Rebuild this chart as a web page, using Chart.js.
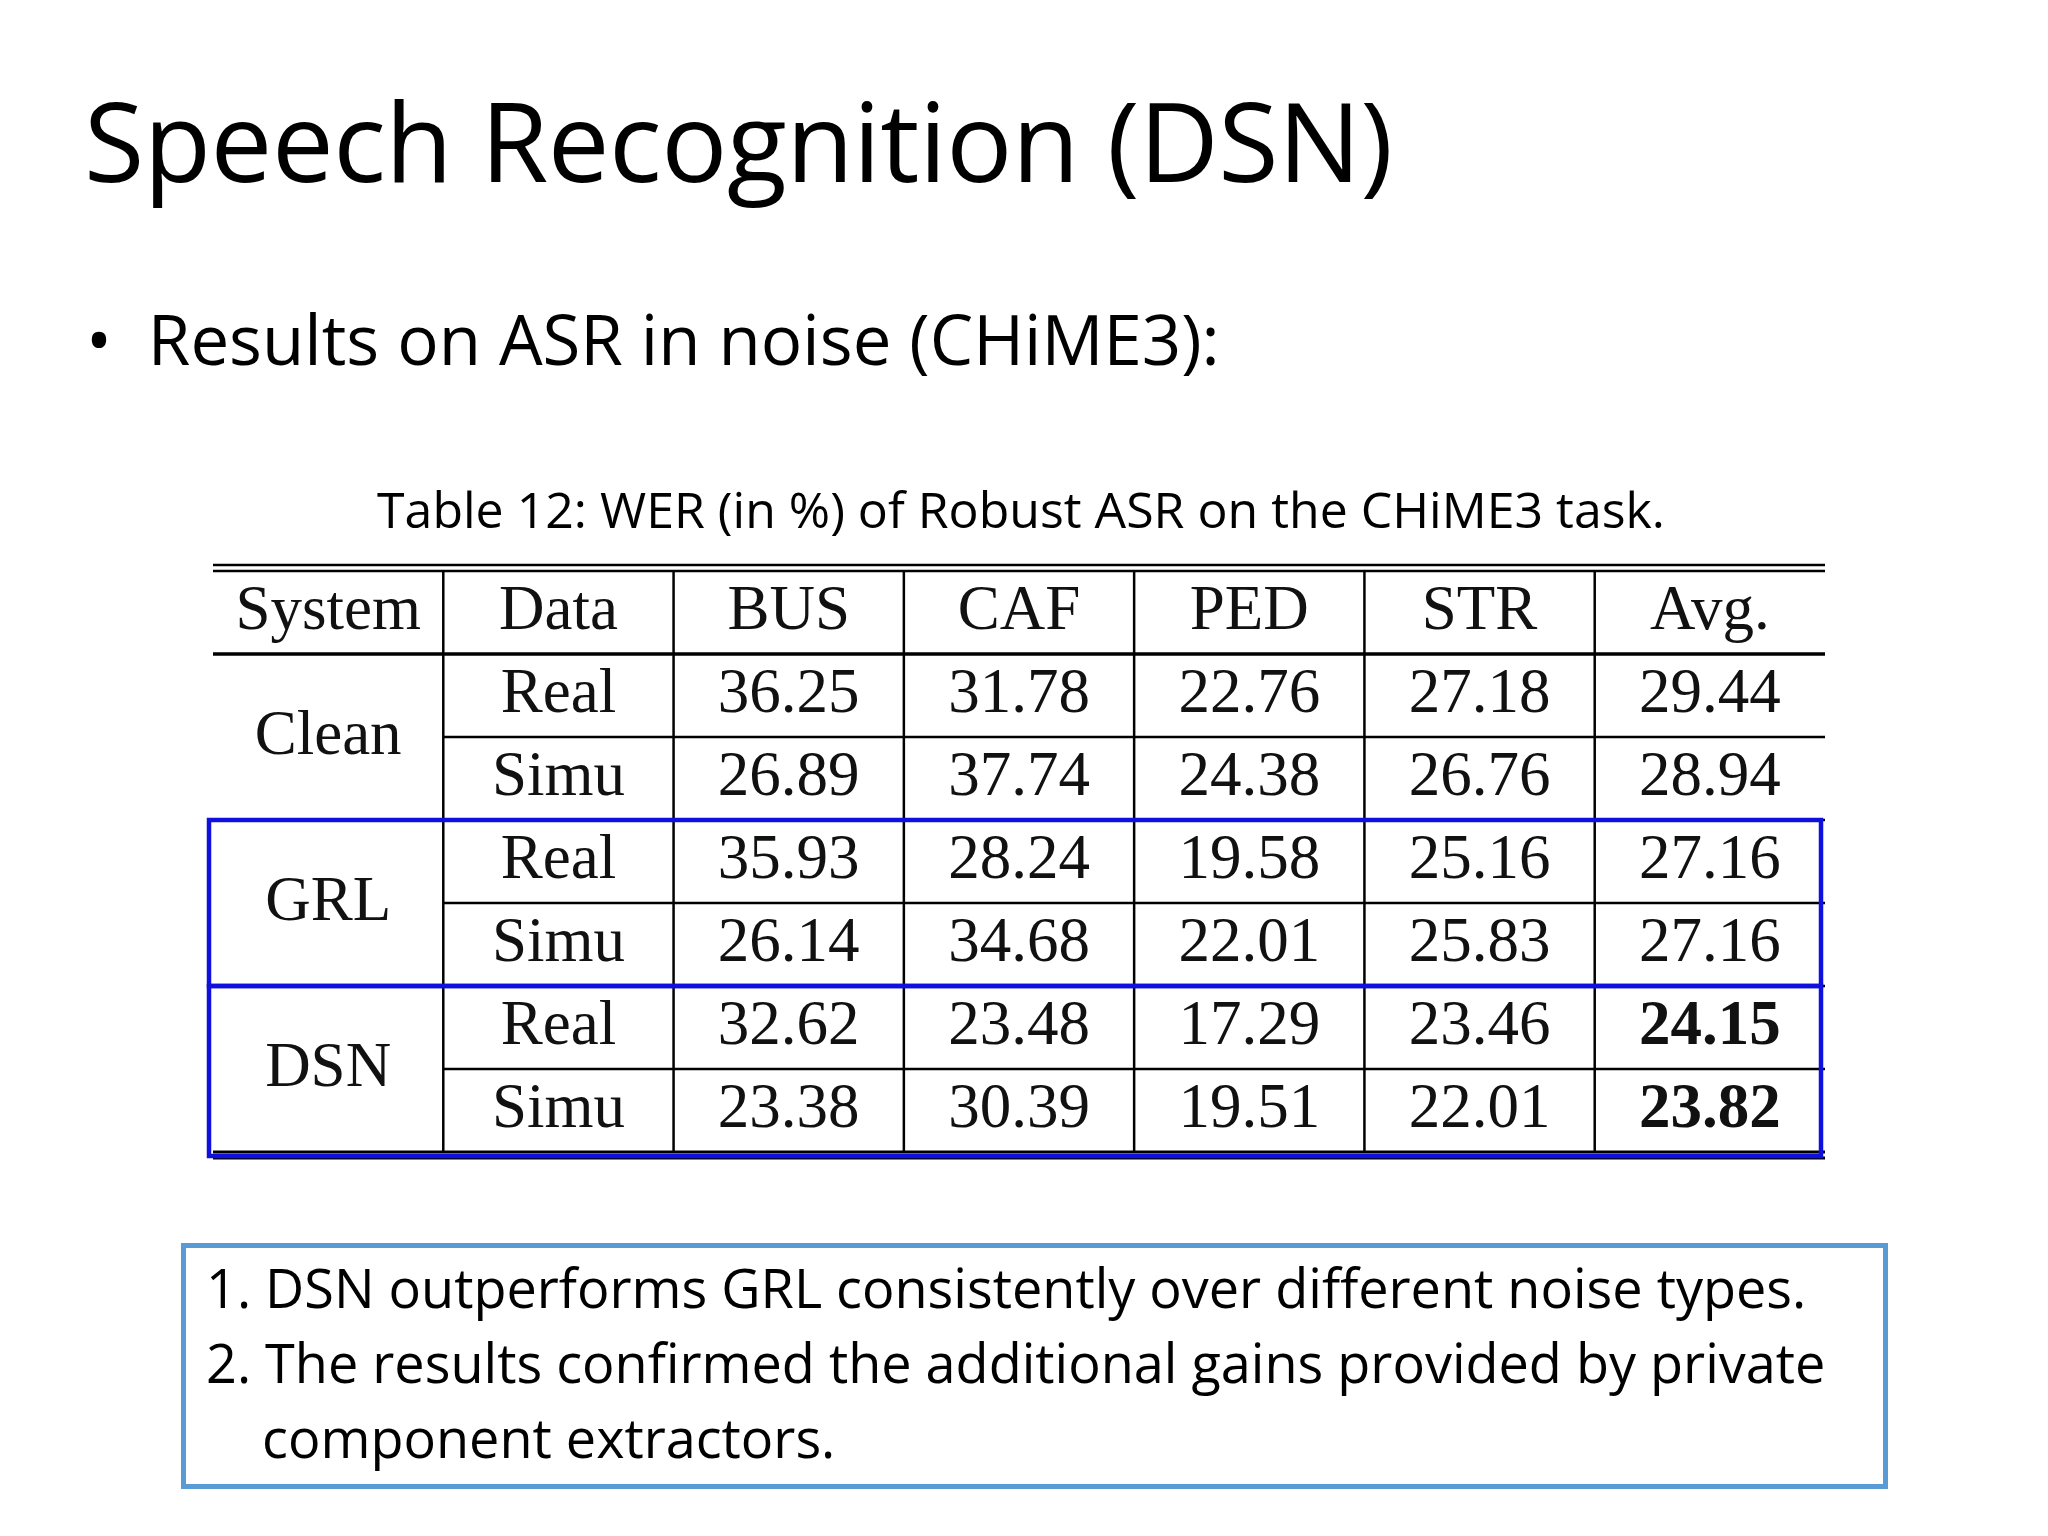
<!DOCTYPE html>
<html><head><meta charset="utf-8">
<script src="https://cdn.jsdelivr.net/npm/chart.js@4"></script>
<style>
html,body{margin:0;padding:0;background:#fff;width:2048px;height:1536px;overflow:hidden;font-family:"Open Sans",sans-serif;color:#000}
#title{position:absolute;left:84px;top:84px;font-size:110px;font-weight:400;line-height:1;letter-spacing:-0.5px}
#bullet{position:absolute;left:86px;top:304px;font-size:69px;line-height:1}
#caption{position:absolute;left:0;width:2042px;text-align:center;top:484px;font-size:50px;line-height:1}
#note{position:absolute;left:181px;top:1243px;width:1707px;height:246px;border:5px solid #5b9bd5;box-sizing:border-box;font-size:54px;line-height:75px;padding:2px 0 0 20px}
#wrap{position:absolute;left:200px;top:558px;width:1640px;height:606px}
</style></head><body>
<div id="title">Speech Recognition (DSN)</div>
<div id="bullet">•&nbsp; Results on ASR in noise (CHiME3):</div>
<div id="caption">Table 12: WER (in %) of Robust ASR on the CHiME3 task.</div>
<div id="wrap"><canvas id="c" width="1640" height="606"></canvas></div>
<div id="note">1. DSN outperforms GRL consistently over different noise types.<br>2. The results confirmed the additional gains provided by private<br>&nbsp;&nbsp;&nbsp;&nbsp;component extractors.</div>
<script>
const columns = ["System","Data","BUS","CAF","PED","STR","Avg."];
const systems = ["Clean","GRL","DSN"];
const dataTypes = ["Real","Simu"];
const cleanReal = [36.25,31.78,22.76,27.18,29.44];
const cleanSimu = [26.89,37.74,24.38,26.76,28.94];
const grlReal = [35.93,28.24,19.58,25.16,27.16];
const grlSimu = [26.14,34.68,22.01,25.83,27.16];
const dsnReal = [32.62,23.48,17.29,23.46,24.15];
const dsnSimu = [23.38,30.39,19.51,22.01,23.82];
const rowSeries = [cleanReal,cleanSimu,grlReal,grlSimu,dsnReal,dsnSimu];
const rowLabels = ["header","r0","r1","r2","r3","r4","r5"];

const tablePlugin = {
  id:'table',
  afterDraw(chart){
    const ctx = chart.ctx, xs = chart.scales.x, ys = chart.scales.y, a = chart.chartArea;
    const cw = xs.getPixelForValue(1)-xs.getPixelForValue(0);
    const rh = ys.getPixelForValue(1)-ys.getPixelForValue(0);
    const colL = i => xs.getPixelForValue(i)-cw/2;
    const rowT = i => ys.getPixelForValue(i)-rh/2;
    ctx.save();
    ctx.strokeStyle='#000';
    const hl=(y,w,x0=a.left,x1=a.right)=>{ctx.lineWidth=w;ctx.beginPath();ctx.moveTo(x0,y);ctx.lineTo(x1,y);ctx.stroke();};
    const vl=(x,y0,y1,w)=>{ctx.lineWidth=w;ctx.beginPath();ctx.moveTo(x,y0);ctx.lineTo(x,y1);ctx.stroke();};
    hl(a.top-6,2.5); hl(a.top,2.5);
    hl(rowT(1),3.5);
    for(let r=2;r<=6;r++){ hl(rowT(r), 2.5, colL(1), a.right); }
    hl(rowT(3),2.5,a.left,colL(1)); hl(rowT(5),2.5,a.left,colL(1));
    hl(a.bottom,3); hl(a.bottom+6,3);
    for(let c=1;c<columns.length;c++) vl(colL(c),a.top,a.bottom,2.5);
    ctx.strokeStyle='#1010dd'; ctx.lineWidth=4.5;
    ctx.strokeRect(a.left-4,rowT(3),a.right-a.left,rh*2);
    ctx.strokeRect(a.left-4,rowT(5),a.right-a.left,rh*2+4);
    ctx.fillStyle='#111'; ctx.textAlign='center'; ctx.textBaseline='middle';
    ctx.font='63px "Liberation Serif", serif';
    columns.forEach((t,i)=>ctx.fillText(t,xs.getPixelForValue(i),ys.getPixelForValue(0)));
    systems.forEach((s,i)=>ctx.fillText(s,xs.getPixelForValue(0),rowT(1+2*i)+rh));
    rowSeries.forEach((vals,r)=>{
      const yc=ys.getPixelForValue(r+1);
      ctx.font='63px "Liberation Serif", serif';
      ctx.fillText(dataTypes[r%2],xs.getPixelForValue(1),yc);
      vals.forEach((v,j)=>{
        ctx.font=(r>=4&&j===4?'bold ':'')+'63px "Liberation Serif", serif';
        ctx.fillText(v.toFixed(2),xs.getPixelForValue(j+2),yc);
      });
    });
    ctx.restore();
  }
};
new Chart(document.getElementById('c'),{
  type:'scatter',
  data:{datasets:[{data:[]}]},
  options:{responsive:false,devicePixelRatio:1,animation:false,
    layout:{padding:{left:13,right:15,top:13,bottom:12}},
    plugins:{legend:{display:false},tooltip:{enabled:false}},
    scales:{
      x:{type:'category',labels:columns,offset:true,display:false},
      y:{type:'category',labels:rowLabels,offset:true,display:false}
    }},
  plugins:[tablePlugin]
});
</script>
</body></html>
